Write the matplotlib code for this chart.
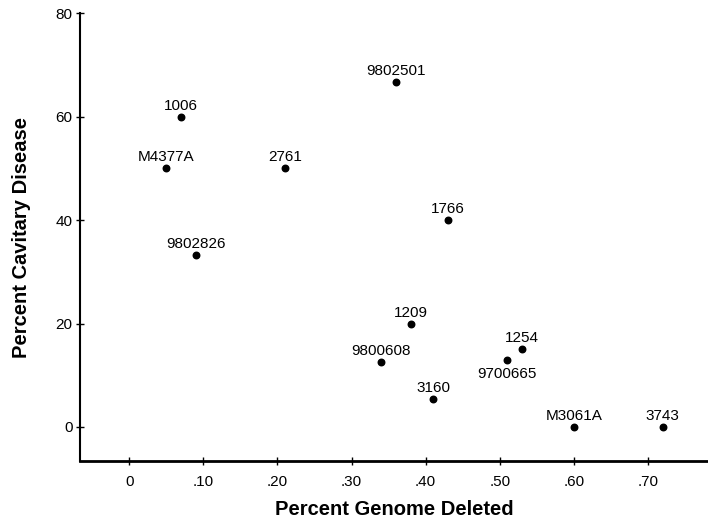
import matplotlib
matplotlib.use("Agg")
import matplotlib.pyplot as plt

plt.rcParams['font.family'] = ['Liberation Sans', 'DejaVu Sans']

# strain labels and values
strains = ['1006', 'M4377A', '2761', '9802501', '1766', '9802826', '1209',
           '9800608', '1254', '9700665', '3160', 'M3061A', '3743']
genome_deleted = [0.07, 0.05, 0.21, 0.36, 0.43, 0.09, 0.38,
                  0.34, 0.53, 0.51, 0.41, 0.60, 0.72]
cavitary = [60, 50, 50, 66.7, 40, 33.3, 20,
            12.5, 15, 13, 5.4, 0, 0]
below = ['9700665']  # labels placed under the dot

xticks = [0, 0.1, 0.2, 0.3, 0.4, 0.5, 0.6, 0.7]
xticklabels = ['0', '.10', '.20', '.30', '.40', '.50', '.60', '.70']
yticks = [0, 20, 40, 60, 80]

fig = plt.figure(figsize=(7.08, 5.21), dpi=100)
ax = fig.add_axes([0.1125, 0.115, 0.8875, 0.8595])

ax.scatter(genome_deleted, cavitary, s=22, color='black', zorder=3)
for name, x, y in zip(strains, genome_deleted, cavitary):
    if name in below:
        ax.annotate(name, (x, y), xytext=(0, -5), textcoords='offset points',
                    ha='center', va='top', fontsize=11)
    else:
        ax.annotate(name, (x, y), xytext=(0, 5), textcoords='offset points',
                    ha='center', va='baseline', fontsize=11)

ax.set_xlim(-0.067, 0.781)
ax.set_ylim(-6.6, 80)
ax.set_xticks(xticks)
ax.set_xticklabels(xticklabels)
ax.set_yticks(yticks)

ax.spines['top'].set_visible(False)
ax.spines['right'].set_visible(False)
ax.spines['left'].set_linewidth(1.5)
ax.spines['bottom'].set_linewidth(2.0)
ax.tick_params(axis='both', direction='inout', length=6, width=1, labelsize=11)
ax.tick_params(axis='x', pad=7)
ax.tick_params(axis='y', pad=2)

ax.set_xlabel('Percent Genome Deleted', fontsize=14.5, fontweight='bold')
ax.set_ylabel('Percent Cavitary Disease', fontsize=14.5, fontweight='bold')
ax.xaxis.set_label_coords(0.5, -0.088)
ax.yaxis.set_label_coords(-0.078, 0.5)

fig.savefig('out.png', dpi=100)
